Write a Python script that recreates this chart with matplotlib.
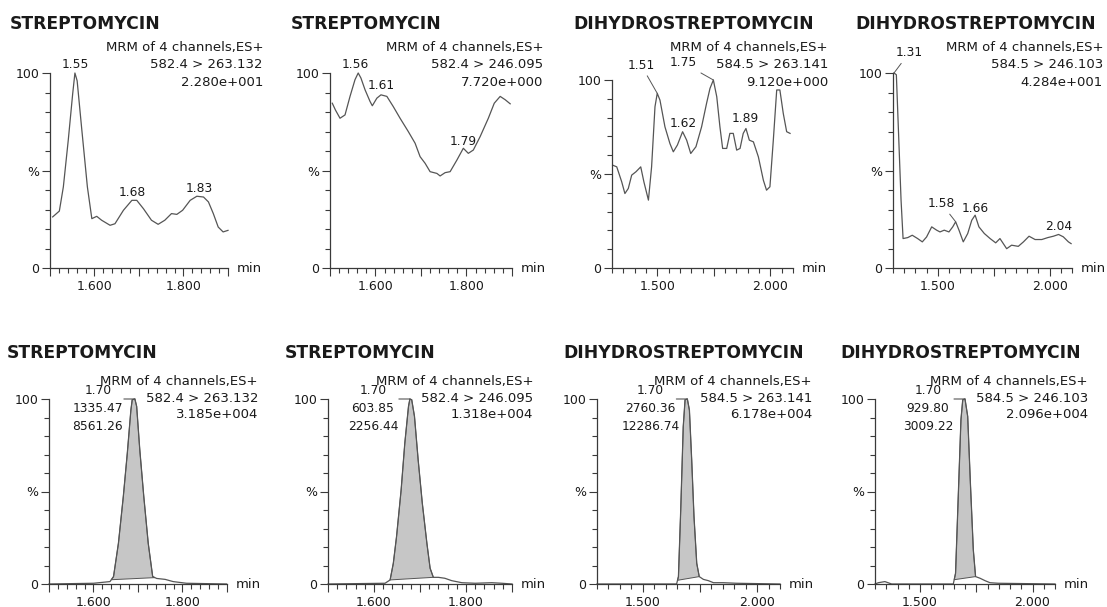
import numpy as np
import matplotlib
matplotlib.use("Agg")
import matplotlib.pyplot as plt
from matplotlib.ticker import MultipleLocator, FixedLocator, FuncFormatter

plt.rcParams["font.family"] = ["DejaVu Sans"]

W, H = 1107, 607
TXT = "#1a1a1a"
AX = "#3a3a3a"
LINE = "#555555"
FILL = "#c6c6c6"

# ---- top row: noise traces (time in min, relative intensity in %) ----
t1 = [1.506, 1.521, 1.530, 1.541, 1.551, 1.556, 1.561, 1.571, 1.584, 1.594, 1.605, 1.616,
      1.635, 1.646, 1.665, 1.684, 1.695, 1.710, 1.728, 1.743, 1.758, 1.773, 1.785, 1.798,
      1.815, 1.830, 1.845, 1.856, 1.867, 1.878, 1.889, 1.900]
i1 = [26.2, 29.2, 41.6, 65.5, 89.4, 100.0, 96.0, 72.0, 41.6, 25.3, 26.5, 24.5,
      21.9, 22.7, 29.6, 34.7, 34.7, 30.4, 24.5, 22.4, 24.5, 27.9, 27.5, 29.6,
      34.7, 36.8, 36.4, 33.9, 27.9, 21.0, 18.5, 19.3]

t2 = [1.505, 1.512, 1.522, 1.533, 1.544, 1.555, 1.562, 1.568, 1.577, 1.588, 1.593, 1.603,
      1.612, 1.625, 1.639, 1.654, 1.672, 1.687, 1.698, 1.709, 1.720, 1.735, 1.742, 1.753,
      1.764, 1.779, 1.793, 1.804, 1.815, 1.830, 1.848, 1.861, 1.874, 1.885, 1.896]
i2 = [84.5, 81.0, 76.8, 78.5, 88.0, 96.6, 100.0, 97.4, 91.4, 85.4, 83.2, 87.1,
      88.8, 88.0, 82.8, 76.8, 70.0, 64.0, 57.1, 53.7, 49.4, 48.5, 47.2, 48.9,
      49.4, 55.4, 61.4, 58.8, 60.5, 67.4, 76.8, 84.5, 88.0, 86.3, 84.2]

t3 = [1.303, 1.321, 1.343, 1.357, 1.372, 1.387, 1.406, 1.427, 1.441, 1.461, 1.475, 1.490,
      1.500, 1.512, 1.534, 1.556, 1.571, 1.589, 1.612, 1.630, 1.648, 1.671, 1.696, 1.718,
      1.733, 1.748, 1.763, 1.777, 1.789, 1.807, 1.821, 1.836, 1.851, 1.866, 1.880, 1.892,
      1.907, 1.925, 1.947, 1.969, 1.983, 1.998, 2.013, 2.028, 2.042, 2.057, 2.072, 2.087]
i3 = [54.7, 53.8, 45.8, 39.6, 42.3, 49.4, 51.2, 53.8, 45.8, 36.1, 53.8, 85.8,
      92.9, 89.3, 75.1, 66.2, 61.8, 65.4, 72.5, 68.0, 60.9, 64.5, 75.1, 87.6,
      95.5, 100.0, 91.1, 75.1, 63.6, 63.6, 71.6, 71.6, 62.7, 63.6, 71.6, 74.2,
      68.0, 67.1, 59.1, 46.7, 41.4, 43.2, 68.0, 94.7, 94.7, 82.2, 72.5, 71.6]

t4 = [1.3045, 1.315, 1.336, 1.345, 1.366, 1.386, 1.410, 1.431, 1.450, 1.473, 1.495, 1.510,
      1.529, 1.550, 1.567, 1.580, 1.595, 1.614, 1.634, 1.652, 1.667, 1.684, 1.708, 1.734,
      1.759, 1.778, 1.808, 1.830, 1.860, 1.883, 1.908, 1.935, 1.965, 1.992, 2.017, 2.040,
      2.061, 2.084, 2.096]
i4 = [100.0, 99.1, 34.8, 15.1, 15.6, 16.8, 15.1, 13.4, 15.9, 21.1, 19.4, 18.5,
      19.4, 18.5, 21.1, 23.7, 19.4, 13.4, 17.7, 24.5, 27.1, 21.1, 17.7, 15.1,
      12.9, 15.1, 9.9, 11.7, 11.1, 13.4, 16.3, 14.6, 14.6, 15.6, 16.3, 17.2,
      16.0, 13.4, 12.5]

# ---- bottom row: spiked sample peaks ----
t5 = [1.500, 1.600, 1.637, 1.645, 1.656, 1.667, 1.676, 1.684, 1.687, 1.693, 1.697, 1.704,
      1.713, 1.723, 1.733, 1.742, 1.761, 1.779, 1.809, 1.899]
i5 = [0.0, 0.4, 1.3, 4.0, 22.0, 47.3, 70.8, 94.0, 99.6, 100.0, 96.0, 72.6,
      47.3, 22.0, 4.0, 3.0, 2.5, 1.3, 0.4, 0.0]

t6 = [1.500, 1.624, 1.635, 1.642, 1.649, 1.659, 1.667, 1.675, 1.678, 1.682, 1.688, 1.696,
      1.705, 1.715, 1.722, 1.729, 1.740, 1.754, 1.769, 1.791, 1.820, 1.856, 1.878, 1.900]
i6 = [0.0, 0.4, 2.2, 11.2, 25.6, 50.9, 76.2, 96.0, 100.0, 99.6, 90.6, 67.1,
      43.7, 22.0, 8.5, 3.6, 3.6, 3.1, 1.8, 0.7, 0.4, 0.7, 0.4, 0.0]

t7 = [1.300, 1.648, 1.656, 1.666, 1.677, 1.685, 1.695, 1.704, 1.714, 1.724, 1.736, 1.747,
      1.765, 1.787, 1.809, 1.852, 1.910, 2.100]
i7 = [0.0, 0.0, 4.0, 40.0, 85.0, 99.6, 100.0, 94.0, 67.0, 36.5, 11.2, 4.0,
      2.5, 1.8, 0.7, 0.7, 0.4, 0.0]

t8 = [1.300, 1.315, 1.344, 1.374, 1.648, 1.658, 1.670, 1.682, 1.690, 1.700, 1.712, 1.724,
      1.737, 1.747, 1.767, 1.789, 1.811, 1.848, 2.100]
i8 = [0.0, 0.7, 1.3, 0.0, 0.0, 5.8, 47.3, 88.8, 99.6, 100.0, 90.6, 54.5,
      18.4, 4.0, 3.1, 1.8, 0.7, 0.4, 0.0]

times = [t1, t2, t3, t4, t5, t6, t7, t8]
intens = [i1, i2, i3, i4, i5, i6, i7, i8]

titles = ["STREPTOMYCIN", "STREPTOMYCIN", "DIHYDROSTREPTOMYCIN", "DIHYDROSTREPTOMYCIN"] * 2
transitions = ["582.4 > 263.132", "582.4 > 246.095", "584.5 > 263.141", "584.5 > 246.103"] * 2
max_counts = ["2.280e+001", "7.720e+000", "9.120e+000", "4.284e+001",
              "3.185e+004", "1.318e+004", "6.178e+004", "2.096e+004"]
xranges = [(1.50, 1.90), (1.50, 1.90), (1.30, 2.10), (1.30, 2.10)] * 2

# labelled retention times on the top row
peak_rt = [["1.55", "1.68", "1.83"], ["1.56", "1.61", "1.79"],
           ["1.51", "1.75", "1.62", "1.89"], ["1.31", "1.58", "1.66", "2.04"]]
# bottom row: retention time, peak height, peak area, integration limits
rt_bottom = ["1.70", "1.70", "1.70", "1.70"]
heights = ["1335.47", "603.85", "2760.36", "929.80"]
areas = ["8561.26", "2256.44", "12286.74", "3009.22"]
int_start = [1.640, 1.635, 1.652, 1.652]
int_end = [1.738, 1.729, 1.747, 1.747]

# ---- layout (figure pixels) ----
boxes = [(50, 228, 73, 268), (330, 512, 73, 268), (612, 793, 80, 268), (893, 1072, 73, 268),
         (49, 227, 399, 584), (328, 512, 399, 584), (597, 780, 399, 584), (875, 1055, 399, 584)]
title_x = [10, 291, 573, 855, 7, 285, 563, 840]
title_y = [24] * 4 + [353] * 4
head_right = [263, 543, 828, 1103, 258, 533, 812, 1088]
head_y = [(47, 65, 82)] * 4 + [(381, 398, 415)] * 4
# (dx, dy, leader) in pixels for each top-row peak label
peak_off = [[(0, 8, False), (0, 8, False), (2, 8, False)],
            [(-3, 8, False), (0, 9, False), (0, 7, False)],
            [(-16, 28, True), (-30, 17, True), (1, 8, False), (-1, 10, False)],
            [(15, 20, True), (-14, 18, True), (0, 7, False), (0, 8, False)]]


def fx(x):
    return x / W


def fy(y):
    return 1 - y / H


def tick_fmt(step):
    def f(v, pos):
        k = v / step
        return f"{v:.3f}" if abs(k - round(k)) < 1e-6 else ""
    return FuncFormatter(f)


fig = plt.figure(figsize=(W / 100, H / 100), dpi=100)

for n in range(8):
    l, r, t, b = boxes[n]
    ax = fig.add_axes([fx(l), fy(b), (r - l) / W, (b - t) / H])
    ax.patch.set_alpha(0)
    x = np.array(times[n])
    y = np.array(intens[n])
    x0, x1 = xranges[n]
    ax.set_xlim(x0, x1)
    ax.set_ylim(0, 100)

    for s in ["top", "right"]:
        ax.spines[s].set_visible(False)
    for s in ["left", "bottom"]:
        ax.spines[s].set_color(AX)
        ax.spines[s].set_linewidth(0.9)

    wide = (x1 - x0) > 0.5
    ax.xaxis.set_major_locator(MultipleLocator(0.25 if wide else 0.1))
    ax.xaxis.set_minor_locator(MultipleLocator(0.05 if wide else 0.02))
    ax.xaxis.set_major_formatter(tick_fmt(0.5 if wide else 0.2))
    ax.yaxis.set_major_locator(FixedLocator([0, 50, 100]))
    ax.yaxis.set_minor_locator(MultipleLocator(10))
    ax.yaxis.set_major_formatter(FuncFormatter(lambda v, p: {0: "0", 50: "%", 100: "100"}[int(round(v))]))
    ax.tick_params(which="major", length=6, width=0.8, color=AX, labelsize=9, labelcolor=TXT)
    ax.tick_params(which="minor", length=3.5, width=0.8, color=AX)
    ax.tick_params(axis="x", which="major", pad=2.5)
    ax.tick_params(axis="y", which="major", pad=1.5)

    ax.annotate("min", xy=(1, 0), xycoords="axes fraction", xytext=(9, 0),
                textcoords="offset pixels", ha="left", va="center", fontsize=9.5, color=TXT)

    if n >= 4:
        k = n - 4
        bs, be = int_start[k], int_end[k]
        m = (x > bs) & (x < be)
        px = np.r_[bs, x[m], be]
        py = np.r_[np.interp(bs, x, y), y[m], np.interp(be, x, y)]
        ax.fill(px, py, facecolor=FILL, edgecolor=LINE, lw=0.7, clip_on=False)
    ax.plot(x, y, color=LINE, lw=0.9, clip_on=False)

    if n < 4:
        for lab, (dx, dy, lead) in zip(peak_rt[n], peak_off[n]):
            rt = float(lab)
            idx = np.flatnonzero((x >= rt - 0.02) & (x <= rt + 0.02))
            i = idx[np.argmax(y[idx])]
            ax.annotate(lab, xy=(x[i], y[i]), xytext=(dx, dy), textcoords="offset pixels",
                        ha="center", va="center", fontsize=8.8, color=TXT,
                        annotation_clip=False,
                        arrowprops=dict(arrowstyle="-", color=LINE, lw=0.7,
                                        shrinkA=1, shrinkB=0) if lead else None)
    else:
        k = n - 4
        i = int(np.argmax(y))
        ax.annotate("", xy=(x[i], y[i]), xytext=(-11, 0), textcoords="offset pixels",
                    annotation_clip=False,
                    arrowprops=dict(arrowstyle="-", color=LINE, lw=0.8, shrinkA=0, shrinkB=0))
        for txt, dy in zip([rt_bottom[k], heights[k], areas[k]], [8, -10, -27]):
            ax.annotate(txt, xy=(x[i], y[i]), xytext=(-37, dy), textcoords="offset pixels",
                        ha="center", va="center", fontsize=8.8, color=TXT, annotation_clip=False)

    fig.text(fx(title_x[n]), fy(title_y[n]), titles[n], ha="left", va="center",
             fontsize=12.3, fontweight="bold", color=TXT)
    for txt, yy in zip(["MRM of 4 channels,ES+", transitions[n], max_counts[n]], head_y[n]):
        fig.text(fx(head_right[n]), fy(yy), txt, ha="right", va="center", fontsize=9.5, color=TXT)

fig.savefig("out.png", dpi=100, facecolor="white")
